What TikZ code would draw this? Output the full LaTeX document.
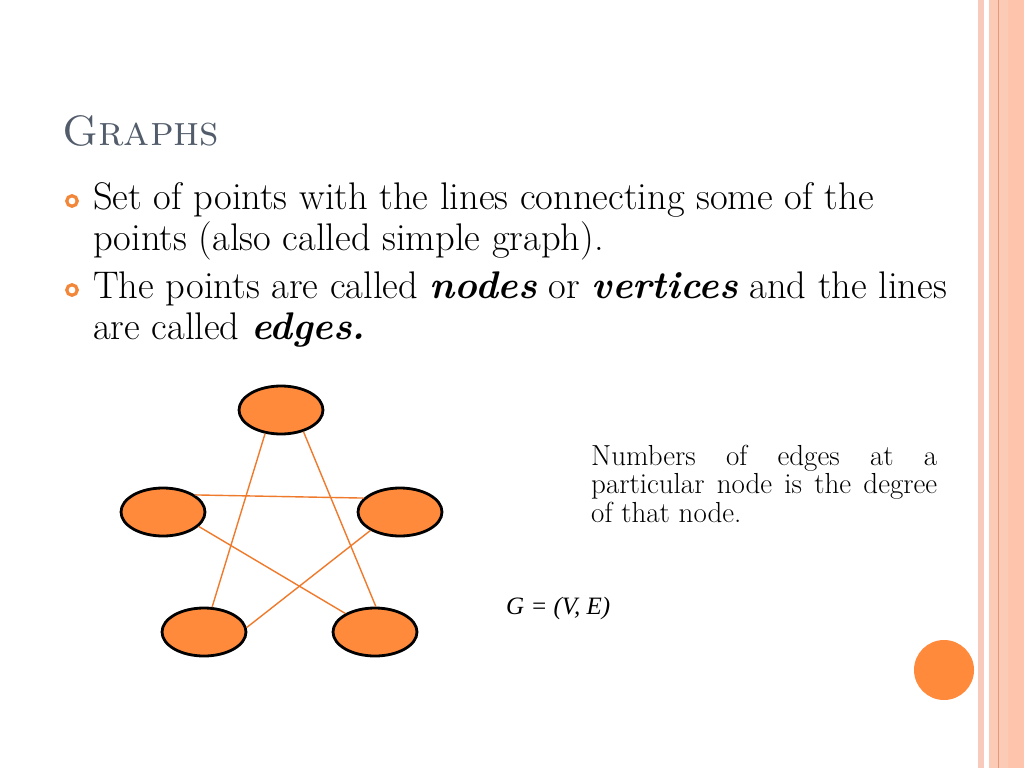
\documentclass[tikz,border=0pt]{standalone}
\usepackage{fontspec}
\newfontfamily\timesit{Liberation Serif Italic}
\usetikzlibrary{shapes.geometric}
\definecolor{titlegray}{HTML}{525C6A}
\definecolor{vorange}{HTML}{FF8A3C}
\definecolor{eorange}{HTML}{F07A2C}
\definecolor{bulorange}{HTML}{F2873A}
\definecolor{stripeA}{HTML}{F8CABB}
\definecolor{stripeB}{HTML}{FCCBB6}
\definecolor{stripeC}{HTML}{FEC4AC}
\definecolor{stripeLine}{HTML}{E49A7A}
\tikzset{
  vert/.style={ellipse, draw=black, line width=2.8pt, fill=vorange, minimum width=84pt, minimum height=48pt, inner sep=0pt},
  edgeline/.style={draw=eorange, line width=1.4pt},
  bul/.style={circle, draw=bulorange, line width=3.2pt, minimum size=10.5pt, inner sep=0pt},
  bodytext/.style={anchor=base west, inner sep=0pt, font=\fontsize{38.5}{44}\selectfont},
  sidetext/.style={anchor=base west, inner sep=0pt, font=\fontsize{29}{30}\selectfont},
}
\begin{document}
\begin{tikzpicture}[x=1pt,y=-1pt]
\useasboundingbox (0,0) rectangle (1024,768);
\fill[white] (0,0) rectangle (1024,768);
% right border stripes
\fill[stripeA] (978,0) rectangle (983.5,768);
\fill[stripeB] (989,0) rectangle (1024,768);
\fill[stripeC] (1008,0) rectangle (1024,768);
\draw[stripeLine, line width=1.3pt] (998.3,0) -- (998.3,768);
% title
\node[anchor=base west, inner sep=0pt, text=titlegray, font=\fontsize{42.5}{50}\selectfont\scshape] (title) at (62,145) {Graphs};
% bullets
\node[bul] (b1) at (72,201) {};
\node[bul] (b2) at (72,290) {};
\node[bodytext] (t1a) at (93,209) {Set of points with the lines connecting some of the};
\node[bodytext] (t1b) at (93,250) {points (also called simple graph).};
\node[bodytext] (t2a) at (93,298) {The points are called \textbf{\textit{nodes}} or \textbf{\textit{vertices}} and the lines};
\node[bodytext] (t2b) at (93,339) {are called \textbf{\textit{edges.}}};
% graph
\node[vert] (T) at (281,410) {};
\node[vert] (L) at (163,512) {};
\node[vert] (R) at (400,512) {};
\node[vert] (BL) at (204,632) {};
\node[vert] (BR) at (375,632) {};
\draw[edgeline] (T.236) -- (BL.72);
\draw[edgeline] (T.316) -- (BR.88);
\draw[edgeline] (L.28) -- (R.159);
\draw[edgeline] (L.338) -- (BR.148);
\draw[edgeline] (R.212) -- (BL.6);
% side text
\node[sidetext] (d1) at (591,465) {\makebox[346pt][s]{Numbers of edges at a}};
\node[sidetext] (d2) at (591,493.5) {\makebox[346pt][s]{particular node is the degree}};
\node[sidetext] (d3) at (591,522) {of that node.};
\node[anchor=base west, inner sep=0pt, font=\fontsize{25}{29}\selectfont\timesit] (gve) at (506,614) {G = (V, E)};
% decorative circle
\node[circle, fill=vorange, minimum size=60pt, inner sep=0pt] (dot) at (944,670) {};
\end{tikzpicture}
\end{document}
